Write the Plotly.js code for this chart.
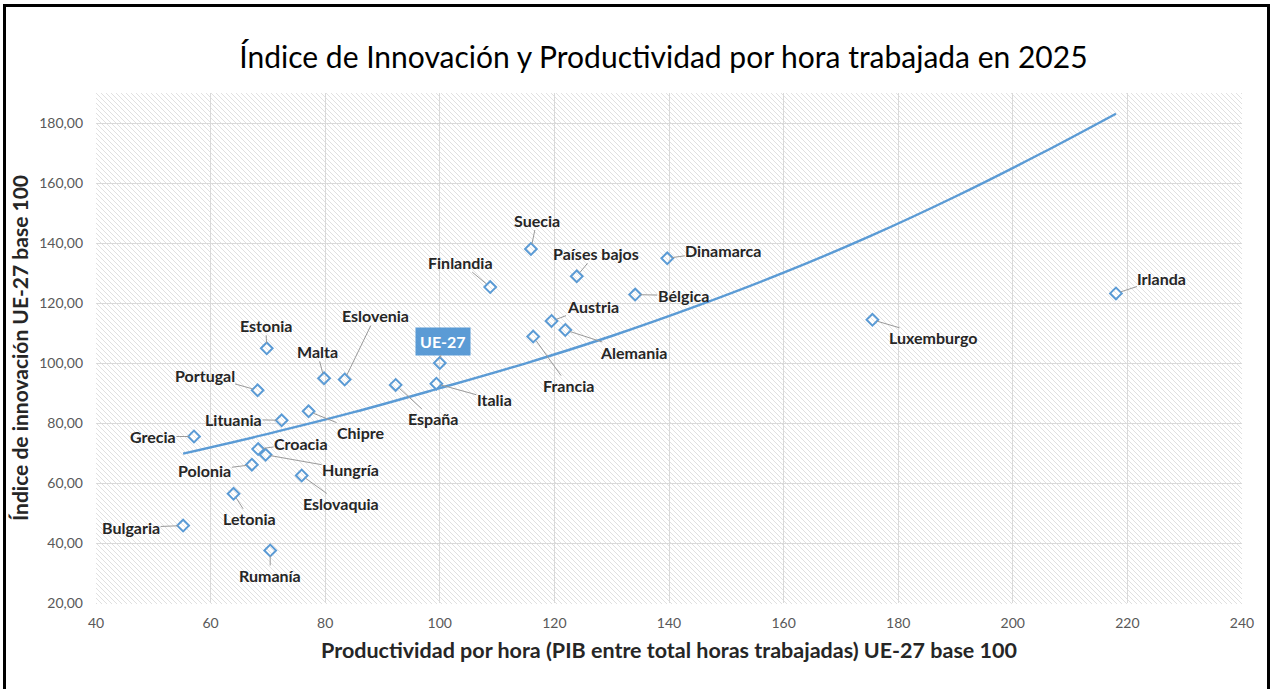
<!DOCTYPE html>
<html>
<head>
<meta charset="utf-8">
<script src="https://cdn.plot.ly/plotly-3.0.1.min.js"></script>
<style>
  html, body { margin: 0; padding: 0; background: #ffffff; overflow: hidden; }
  #frame { position: absolute; left: 3px; top: 4px; width: 1267px; height: 720px; box-sizing: border-box; border: 3px solid #000; z-index: 0; }
  #hatch { position: absolute; left: 96px; top: 93px; width: 1146px; height: 511px; z-index: 1;
    background-color: #ffffff;
    background-image: url("data:image/svg+xml;utf8,<svg xmlns='http://www.w3.org/2000/svg' width='5' height='5' shape-rendering='crispEdges'><rect x='0' y='0' width='1' height='1' fill='%23e0e0e0'/><rect x='1' y='1' width='1' height='1' fill='%23e0e0e0'/><rect x='2' y='2' width='1' height='1' fill='%23e0e0e0'/><rect x='3' y='3' width='1' height='1' fill='%23e0e0e0'/><rect x='4' y='4' width='1' height='1' fill='%23e0e0e0'/></svg>");
    background-repeat: repeat; image-rendering: pixelated; }
  #chart { position: absolute; left: 0; top: 0; width: 1271px; height: 689px; z-index: 2; }
</style>
</head>
<body>
<div id="frame"></div>
<div id="hatch"></div>
<div id="chart"></div>
<script>
// ---- data ----
const countries = ['Bulgaria','Rumanía','Letonia','Grecia','Polonia','Croacia','Hungría','Eslovaquia','Lituania','Chipre','Portugal','Estonia','Malta','Eslovenia','UE-27','España','Italia','Finlandia','Suecia','Francia','Austria','Alemania','Países bajos','Bélgica','Dinamarca','Luxemburgo','Irlanda'];
const productivity = [55.2,70.4,64.0,57.1,67.2,68.3,69.6,75.9,72.4,77.1,68.2,69.8,79.8,83.4,100,92.3,99.4,108.8,115.9,116.3,119.5,121.9,123.9,134.1,139.7,175.5,218.0];
const innovation = [45.8,37.5,56.4,75.5,66.1,71.3,69.4,62.5,80.9,83.9,90.9,104.9,94.9,94.5,100,92.7,93.1,125.3,138.0,108.8,114.0,111.0,128.9,122.8,134.9,114.4,123.2];
// trend line (exponential trendline)
const trendX = [55.2,70,85,100,115,130,145,160,175,190,205,218];
const trendY = [69.8,76.4,83.6,91.6,99.9,109.0,119.1,130.1,142.2,155.5,169.9,183.1];
const xTicks = [40,60,80,100,120,140,160,180,200,220,240];
const yTicks = [20,40,60,80,100,120,140,160,180];

// ---- label placement (pixel offsets of label centre from its point) ----
const labelOffsets = {
  'Bulgaria':[-52,2], 'Rumanía':[0,25], 'Letonia':[16,25], 'Grecia':[-41,0], 'Polonia':[-47,6],
  'Croacia':[43,-6], 'Hungría':[85,15], 'Eslovaquia':[39,28], 'Lituania':[-48,-1], 'Chipre':[52,21],
  'Portugal':[-53,-15], 'Estonia':[-1,-23], 'Malta':[-7,-27], 'Eslovenia':[31,-64], 'UE-27':[3,-22],
  'España':[37,34], 'Italia':[58,16], 'Finlandia':[-30,-25], 'Suecia':[6,-29], 'Francia':[35,49],
  'Austria':[41,-15], 'Alemania':[68,22], 'Países bajos':[19,-23], 'Bélgica':[48,1], 'Dinamarca':[56,-8],
  'Luxemburgo':[61,18], 'Irlanda':[46,-15]
};

const FONT = 'Lato, "Open Sans", sans-serif';
const blue = '#5b9bd5';

const annotations = countries.map((c, i) => {
  const off = labelOffsets[c];
  const isEU = c === 'UE-27';
  return {
    x: productivity[i], y: innovation[i], xref: 'x', yref: 'y',
    text: c, showarrow: true, arrowhead: 0, arrowwidth: 1, arrowcolor: '#9a9a9a',
    ax: off[0], ay: off[1], axref: 'pixel', ayref: 'pixel', standoff: 5,
    font: { family: FONT, size: 16, color: isEU ? '#ffffff' : '#262626', weight: 'bold' },
    bgcolor: isEU ? blue : 'rgba(0,0,0,0)', borderpad: isEU ? 4 : 0
  };
});

const traces = [
  {
    type: 'scatter', mode: 'lines', x: trendX, y: trendY,
    line: { color: blue, width: 2.4, shape: 'spline' }, hoverinfo: 'skip'
  },
  {
    type: 'scatter', mode: 'markers', x: productivity, y: innovation, text: countries,
    marker: { symbol: 'diamond-open', size: 9, color: blue, line: { width: 2, color: blue } }
  }
];

const layout = {
  width: 1271, height: 689,
  paper_bgcolor: 'rgba(0,0,0,0)', plot_bgcolor: 'rgba(0,0,0,0)',
  margin: { l: 96, r: 29, t: 93, b: 86 },
  showlegend: false,
  font: { family: FONT, color: '#595959' },
  title: {
    text: 'Índice de Innovación y Productividad por hora trabajada en 2025',
    font: { family: FONT, size: 30, color: '#000000' },
    x: 0.522, xanchor: 'center', y: 0.917, yanchor: 'middle'
  },
  xaxis: {
    range: [40, 240], tickvals: xTicks, ticktext: xTicks.map(String),
    showgrid: true, gridcolor: '#d9d9d9', gridwidth: 1, zeroline: false, showline: false,
    ticks: '', ticklabelstandoff: 10,
    tickfont: { family: FONT, size: 14, color: '#595959' },
    title: { text: 'Productividad por hora (PIB entre total horas trabajadas) UE-27 base 100',
      font: { family: FONT, size: 21.5, color: '#262626', weight: 'bold' }, standoff: 12 }
  },
  yaxis: {
    range: [20, 190], tickvals: yTicks, ticktext: yTicks.map(v => v.toFixed(2).replace('.', ',')),
    showgrid: true, gridcolor: '#d9d9d9', gridwidth: 1, zeroline: false, showline: false,
    ticks: '', ticklabelstandoff: 12,
    tickfont: { family: FONT, size: 14, color: '#595959' },
    title: { text: 'Índice de innovación UE-27 base 100',
      font: { family: FONT, size: 21, color: '#262626', weight: 'bold' }, standoff: 4 }
  },
  annotations: annotations
};

Plotly.newPlot('chart', traces, layout, { displayModeBar: false, staticPlot: true });
</script>
</body>
</html>
